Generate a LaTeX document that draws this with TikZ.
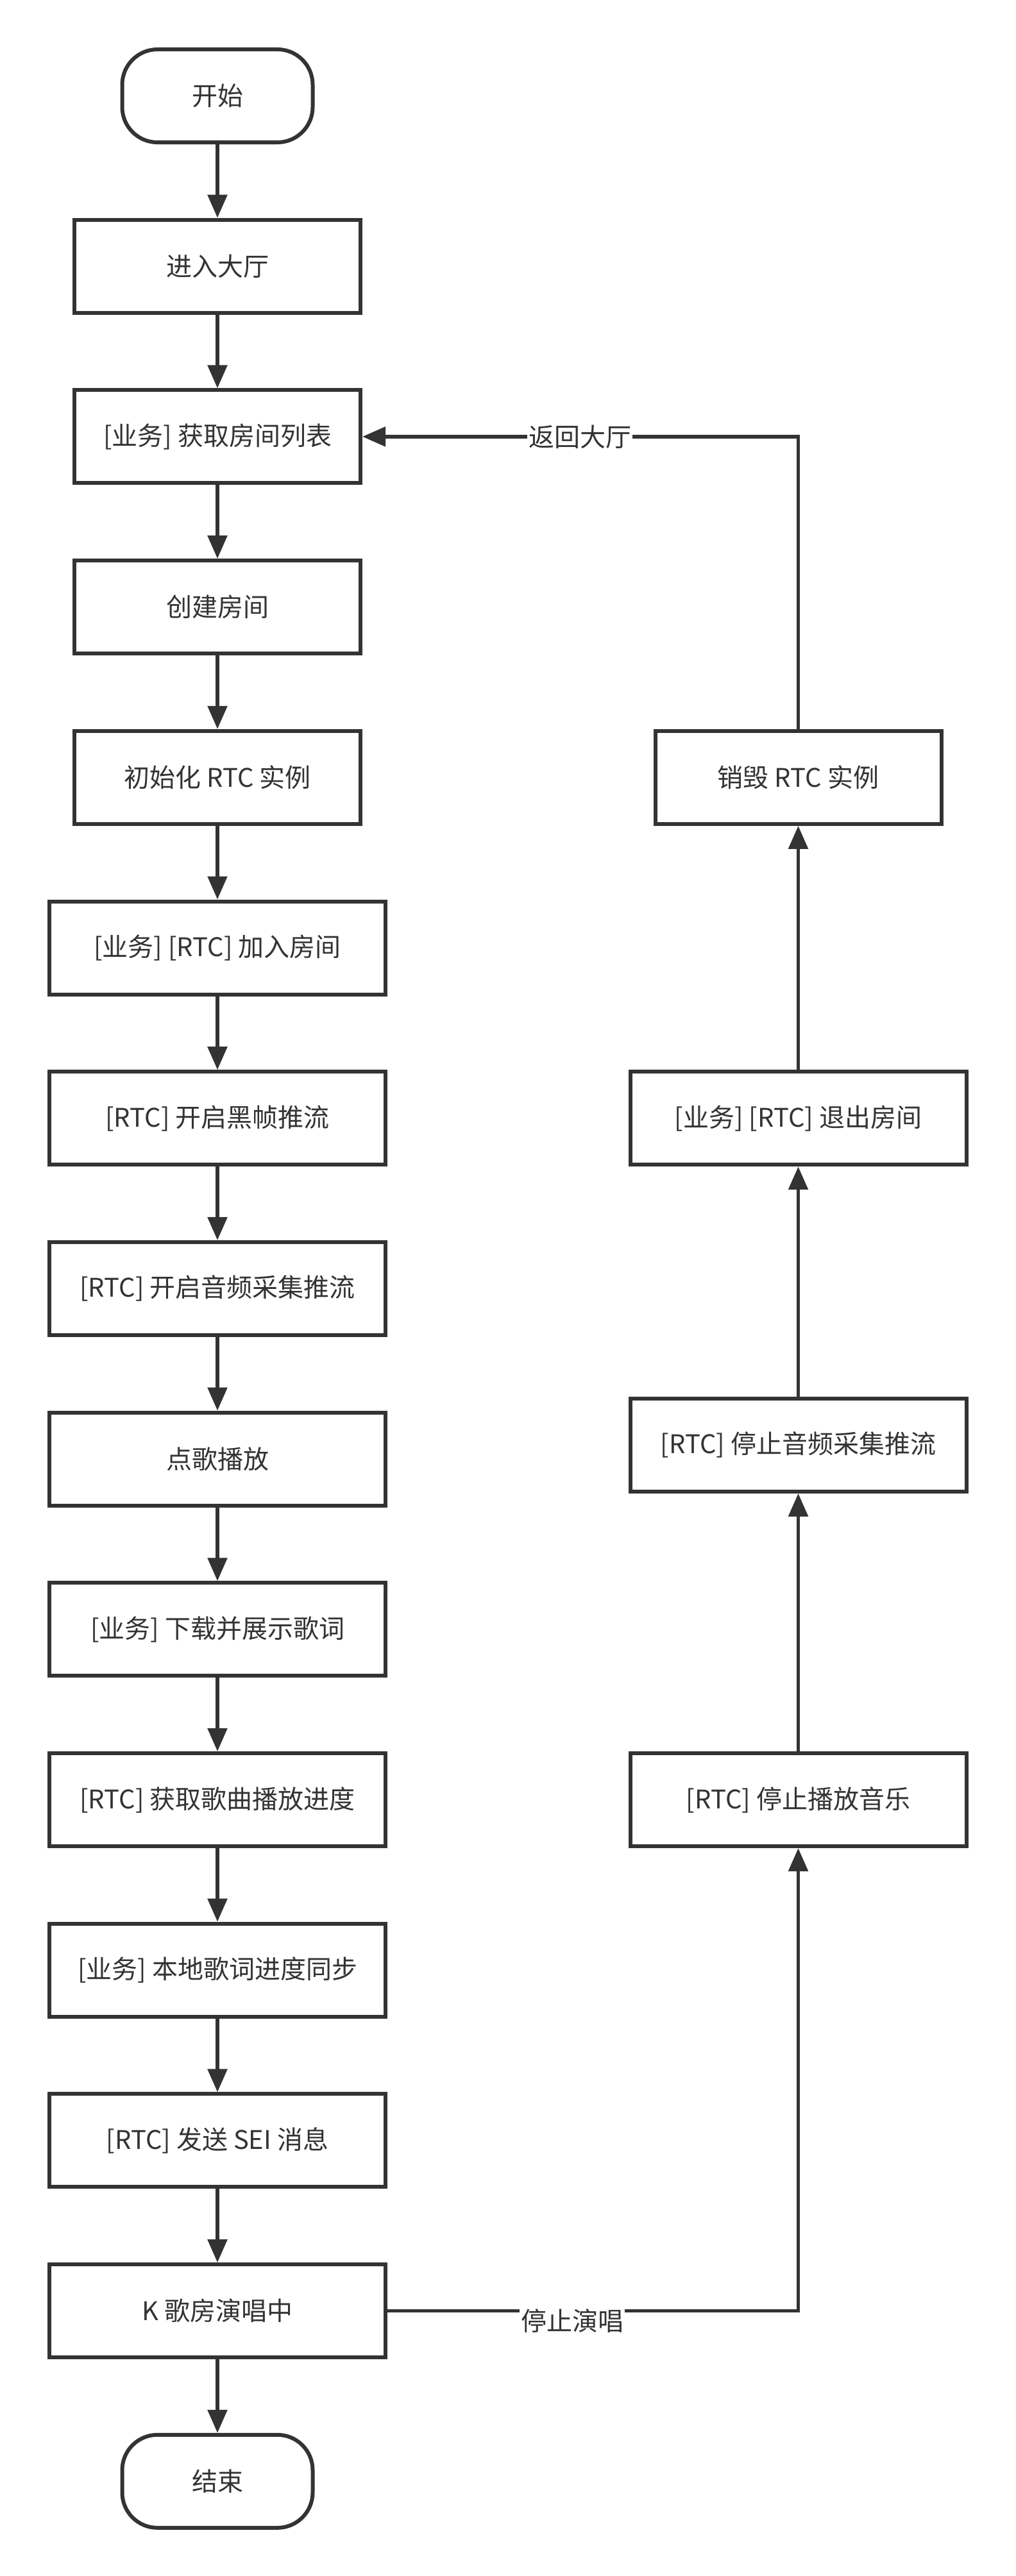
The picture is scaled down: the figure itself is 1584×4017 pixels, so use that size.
\documentclass[tikz,border=0pt]{standalone}
\usepackage{fontspec}
\setmainfont{Noto Sans CJK SC}
\usetikzlibrary{arrows.meta}
\definecolor{ln}{HTML}{333333}
\definecolor{tx}{HTML}{333333}
\tikzset{
  base/.style={draw=ln, line width=6pt, text=tx, font=\fontsize{40}{46}\selectfont, minimum height=145pt, inner sep=0pt, fill=white},
  narrowbox/.style={base, minimum width=446pt},
  widebox/.style={base, minimum width=524pt},
  termbox/.style={base, minimum width=297pt, rounded corners=55pt},
  flow/.style={draw=ln, line width=5.5pt, -{Triangle[length=36pt,width=30pt]}},
  elabel/.style={fill=white, text=tx, font=\fontsize{40}{46}\selectfont, inner sep=2pt}
}
\begin{document}
\begin{tikzpicture}[x=1pt,y=-1pt]
\useasboundingbox (0,0) rectangle (1584,4017);
% left column
\node[termbox]   (n0)  at (339,149.5)  {开始};
\node[narrowbox] (n1)  at (339,415.2)  {进入大厅};
\node[narrowbox] (n2)  at (339,680.9)  {[业务] 获取房间列表};
\node[narrowbox] (n3)  at (339,946.6)  {创建房间};
\node[narrowbox] (n4)  at (339,1212.3) {初始化 RTC 实例};
\node[widebox]   (n5)  at (339,1478.0) {[业务] [RTC] 加入房间};
\node[widebox]   (n6)  at (339,1743.7) {[RTC] 开启黑帧推流};
\node[widebox]   (n7)  at (339,2009.4) {[RTC] 开启音频采集推流};
\node[widebox]   (n8)  at (339,2275.1) {点歌播放};
\node[widebox]   (n9)  at (339,2540.8) {[业务] 下载并展示歌词};
\node[widebox]   (n10) at (339,2806.5) {[RTC] 获取歌曲播放进度};
\node[widebox]   (n11) at (339,3072.2) {[业务] 本地歌词进度同步};
\node[widebox]   (n12) at (339,3337.9) {[RTC] 发送 SEI 消息};
\node[widebox]   (n13) at (339,3603.6) {K 歌房演唱中};
\node[termbox]   (n14) at (339,3869.3) {结束};
% right column
\node[widebox]   (r1)  at (1244.5,2806.5) {[RTC] 停止播放音乐};
\node[widebox]   (r2)  at (1244.5,2253.3) {[RTC] 停止音频采集推流};
\node[widebox]   (r3)  at (1244.5,1743.7) {[业务] [RTC] 退出房间};
\node[narrowbox] (r4)  at (1244.5,1212.3) {销毁 RTC 实例};
% left flow
\foreach \a/\b in {n0/n1,n1/n2,n2/n3,n3/n4,n4/n5,n5/n6,n6/n7,n7/n8,n8/n9,n9/n10,n10/n11,n11/n12,n12/n13,n13/n14}
  \draw[flow] (\a.south) -- (\b.north);
% right flow
\draw[flow] (n13.east) -- (r1.south |- n13.east) -- (r1.south);
\draw[flow] (r1.north) -- (r2.south);
\draw[flow] (r2.north) -- (r3.south);
\draw[flow] (r3.north) -- (r4.south);
\draw[flow] (r4.north) -- (r4.north |- n2.east) -- (n2.east);
% labels
\node[elabel] (l1) at (904,681) {返回大厅};
\node[elabel] (l2) at (892,3619) {停止演唱};
\end{tikzpicture}
\end{document}
